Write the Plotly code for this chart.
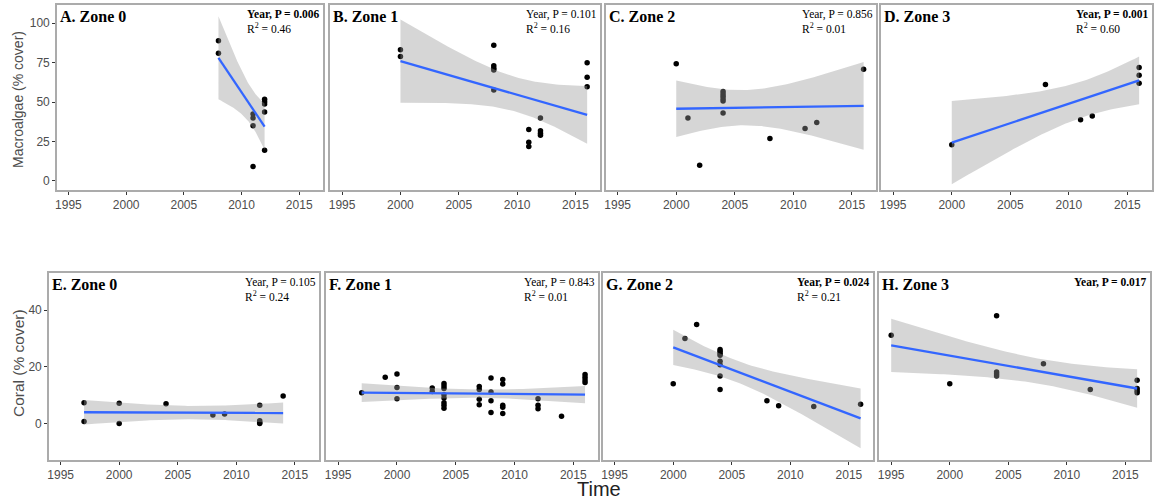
import math
import numpy as np
import plotly.graph_objects as go

W, H = 1160, 502

# ---------------- data ----------------
A_x = [2008, 2008, 2011, 2011, 2011, 2011, 2012, 2012, 2012, 2012, 2012]
A_y = [88.8, 80.9, 42.4, 39.8, 35.0, 9.1, 51.7, 50.2, 48.7, 43.6, 19.5]

B_x = [2000, 2000, 2008, 2008, 2008, 2008, 2008, 2011, 2011, 2011,
       2012, 2012, 2012, 2012, 2016, 2016, 2016]
B_y = [83.1, 78.8, 86.0, 72.9, 71.4, 70.3, 57.6, 32.6, 24.6, 21.8,
       39.8, 31.8, 30.3, 29.0, 74.8, 65.7, 59.7]

C_x = [2000, 2001, 2002, 2004, 2004, 2004, 2004, 2004, 2004, 2008, 2011, 2012, 2016]
C_y = [74.2, 39.8, 10.0, 56.6, 55.1, 53.6, 52.1, 50.6, 43.0, 26.9, 33.3, 37.1, 70.8]

D_x = [2000, 2008, 2011, 2012, 2016, 2016, 2016]
D_y = [22.9, 61.0, 38.8, 41.1, 71.8, 67.0, 61.9]

E_x = [1997, 1997, 2000, 2000, 2004, 2008, 2009, 2012, 2012, 2012, 2012, 2014]
E_y = [7.4, 0.8, 7.2, 0.1, 7.1, 3.1, 3.5, 6.5, 1.1, 0.5, 0.1, 9.8]

F_x = [1997, 1999, 2000, 2000, 2000, 2003, 2003,
       2004, 2004, 2004, 2004, 2004, 2004, 2004, 2004,
       2007, 2007, 2007, 2007, 2008, 2008, 2008, 2008,
       2009, 2009, 2009, 2009, 2009, 2012, 2012, 2012, 2014,
       2016, 2016, 2016, 2016]
F_y = [10.9, 16.4, 17.5, 12.8, 8.8, 12.6, 11.4,
       14.2, 13.3, 12.4, 10.2, 9.1, 7.4, 6.5, 5.5,
       13.1, 12.1, 8.6, 6.7, 16.1, 11.2, 8.1, 4.0,
       15.6, 14.0, 6.5, 5.8, 3.6, 8.8, 6.5, 5.3, 2.7,
       17.3, 16.4, 15.4, 14.5]

G_x = [2000, 2001, 2002, 2004, 2004, 2004, 2004, 2004, 2004, 2004, 2004,
       2008, 2009, 2012, 2016]
G_y = [14.1, 30.0, 34.9, 26.1, 25.5, 24.8, 24.1, 22.0, 20.8, 16.8, 12.1,
       8.1, 6.4, 6.1, 6.9]

H_x = [1995, 2000, 2004, 2004, 2004, 2004, 2008, 2012, 2016, 2016, 2016, 2016]
H_y = [31.1, 14.1, 38.0, 18.2, 17.5, 16.8, 21.1, 12.1, 15.3, 12.4, 11.6, 10.9]

titles = ["A. Zone 0", "B. Zone 1", "C. Zone 2", "D. Zone 3",
          "E. Zone 0", "F. Zone 1", "G. Zone 2", "H. Zone 3"]
p_text = ["Year, P = 0.006", "Year, P = 0.101", "Year, P = 0.856", "Year, P = 0.001",
          "Year, P = 0.105", "Year, P = 0.843", "Year, P = 0.024", "Year, P = 0.017"]
p_bold = [True, False, False, True, False, False, True, True]
r2_text = ["0.46", "0.16", "0.01", "0.60", "0.24", "0.01", "0.21", None]

x_ticks = [1995, 2000, 2005, 2010, 2015]
top_y_ticks = [0, 25, 50, 75, 100]
bot_y_ticks = [0, 20, 40]

panels_x = [A_x, B_x, C_x, D_x, E_x, F_x, G_x, H_x]
panels_y = [A_y, B_y, C_y, D_y, E_y, F_y, G_y, H_y]

# ---------------- layout geometry (pixels) ----------------
top_cols = [(55, 322), (329, 599), (605, 876), (881, 1152)]
bot_cols = [(47, 318), (325, 597), (602, 873), (879, 1150)]
top_rows = (5, 190)
bot_rows = (273, 460)


def px(x):
    return x / W


def py(y):
    return 1 - y / H


def t975(df):
    # 97.5% quantile of Student t via numerical integration + bisection
    c = math.exp(math.lgamma((df + 1) / 2) - math.lgamma(df / 2)) / math.sqrt(df * math.pi)

    def cdf_half(q):
        t = np.linspace(0, q, 4001)
        f = c * (1 + t * t / df) ** (-(df + 1) / 2)
        return np.trapezoid(f, t)

    lo, hi = 0.0, 20.0
    for _ in range(60):
        mid = (lo + hi) / 2
        if cdf_half(mid) < 0.475:
            lo = mid
        else:
            hi = mid
    return (lo + hi) / 2


def lm_fit(x, y):
    x = np.asarray(x, float)
    y = np.asarray(y, float)
    n = len(x)
    xb, yb = x.mean(), y.mean()
    sxx = ((x - xb) ** 2).sum()
    b = ((x - xb) * (y - yb)).sum() / sxx
    a = yb - b * xb
    resid = y - (a + b * x)
    s = math.sqrt((resid ** 2).sum() / (n - 2))
    xs = np.linspace(x.min(), x.max(), 80)
    fit = a + b * xs
    se = s * np.sqrt(1 / n + (xs - xb) ** 2 / sxx)
    t = t975(n - 2)
    return xs, fit, fit - t * se, fit + t * se


fig = go.Figure()
layout = {}
annotations = []

for i in range(8):
    k = i + 1
    xa = "x" if k == 1 else f"x{k}"
    ya = "y" if k == 1 else f"y{k}"
    top = i < 4
    cx = top_cols[i] if top else bot_cols[i - 4]
    ry = top_rows if top else bot_rows
    yr = [-5.7, 111.4] if top else [-12.7, 53.0]
    yt = top_y_ticks if top else bot_y_ticks
    first = i in (0, 4)

    xs, fit, lo, hi = lm_fit(panels_x[i], panels_y[i])

    fig.add_trace(go.Scatter(x=panels_x[i], y=panels_y[i], mode="markers",
                             marker=dict(color="black", size=5.5),
                             xaxis=xa, yaxis=ya, showlegend=False))
    fig.add_trace(go.Scatter(x=np.concatenate([xs, xs[::-1]]),
                             y=np.concatenate([hi, lo[::-1]]),
                             fill="toself", fillcolor="rgba(153,153,153,0.4)",
                             line=dict(width=0), mode="lines",
                             xaxis=xa, yaxis=ya, showlegend=False, hoverinfo="skip"))
    fig.add_trace(go.Scatter(x=xs, y=fit, mode="lines",
                             line=dict(color="#3366FF", width=2.3),
                             xaxis=xa, yaxis=ya, showlegend=False))

    axis_common = dict(showline=True, mirror=True, linecolor="#ababab", linewidth=1.5,
                       showgrid=False, zeroline=False)
    layout["xaxis" if k == 1 else f"xaxis{k}"] = dict(
        domain=[px(cx[0]), px(cx[1])], range=[1994.0, 2017.1],
        tickvals=x_ticks, ticks="outside", ticklen=3, tickwidth=1, tickcolor="#333333",
        tickfont=dict(family="Liberation Sans, Arial", size=12, color="#4d4d4d"),
        anchor=ya, **axis_common)
    layout["yaxis" if k == 1 else f"yaxis{k}"] = dict(
        domain=[py(ry[1]), py(ry[0])], range=yr,
        tickvals=yt, ticks="outside" if first else "", ticklen=3, tickwidth=1,
        tickcolor="#333333", showticklabels=first,
        tickfont=dict(family="Liberation Sans, Arial", size=12, color="#4d4d4d"),
        anchor=xa, **axis_common)

    # panel title
    annotations.append(dict(
        x=px(cx[0] + 1), y=py(ry[0] + 1), xref="paper", yref="paper",
        xanchor="left", yanchor="top", showarrow=False,
        text=f"<b>{titles[i]}</b>",
        font=dict(family="Liberation Serif, Times New Roman", size=16, color="black")))
    # stats text
    ptxt = f"<b>{p_text[i]}</b>" if p_bold[i] else p_text[i]
    txt = ptxt if r2_text[i] is None else f"{ptxt}<br>R<sup>2</sup> = {r2_text[i]}"
    annotations.append(dict(
        x=px(cx[1] - 1), y=py(ry[0] + 1), xref="paper", yref="paper",
        xanchor="right", yanchor="top", align="left", showarrow=False,
        text=txt,
        font=dict(family="Liberation Serif, Times New Roman", size=11.5, color="black")))

annotations.append(dict(x=px(16), y=py(99), xref="paper", yref="paper",
                        xanchor="center", yanchor="middle",
                        text="Macroalgae (% cover)", textangle=-90, showarrow=False,
                        font=dict(family="Liberation Sans, Arial", size=14, color="#4d4d4d")))
annotations.append(dict(x=px(16), y=py(363), xref="paper", yref="paper",
                        xanchor="center", yanchor="middle",
                        text="Coral (% cover)", textangle=-90, showarrow=False,
                        font=dict(family="Liberation Sans, Arial", size=15.5, color="#4d4d4d")))
annotations.append(dict(x=px(598), y=py(489), xref="paper", yref="paper",
                        xanchor="center", yanchor="middle",
                        text="Time", showarrow=False,
                        font=dict(family="Liberation Sans, Arial", size=20, color="#222222")))

fig.update_layout(width=W, height=H, margin=dict(l=0, r=0, t=0, b=0),
                  paper_bgcolor="white", plot_bgcolor="white",
                  annotations=annotations, **layout)

fig.write_html("out.html")
